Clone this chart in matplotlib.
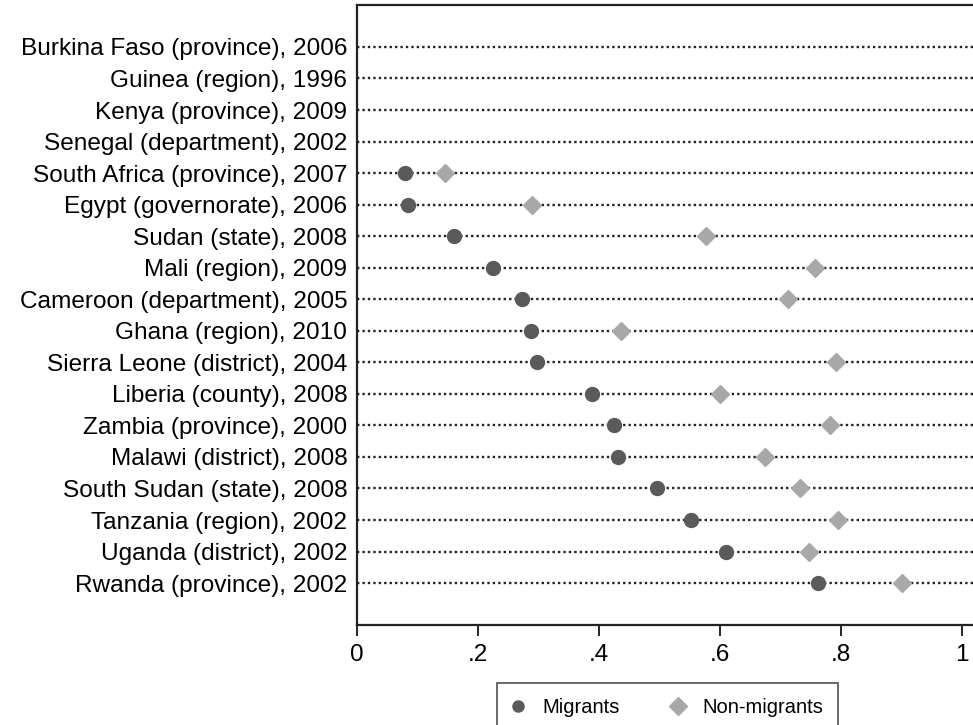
import matplotlib
matplotlib.use("Agg")
import matplotlib.pyplot as plt
from matplotlib.lines import Line2D

plt.rcParams['font.family'] = ['Liberation Sans', 'DejaVu Sans']

countries = [
    'Burkina Faso (province), 2006',
    'Guinea (region), 1996',
    'Kenya (province), 2009',
    'Senegal (department), 2002',
    'South Africa (province), 2007',
    'Egypt (governorate), 2006',
    'Sudan (state), 2008',
    'Mali (region), 2009',
    'Cameroon (department), 2005',
    'Ghana (region), 2010',
    'Sierra Leone (district), 2004',
    'Liberia (county), 2008',
    'Zambia (province), 2000',
    'Malawi (district), 2008',
    'South Sudan (state), 2008',
    'Tanzania (region), 2002',
    'Uganda (district), 2002',
    'Rwanda (province), 2002',
]
# None = no value shown for that census
migrants = [None, None, None, None, 0.080, 0.085, 0.160, 0.225, 0.273, 0.288,
            0.298, 0.388, 0.425, 0.432, 0.497, 0.552, 0.610, 0.763]
non_migrants = [None, None, None, None, 0.145, 0.290, 0.578, 0.758, 0.713, 0.437,
                0.793, 0.600, 0.782, 0.675, 0.732, 0.795, 0.748, 0.902]

x_ticks = [0, 0.2, 0.4, 0.6, 0.8, 1.0]
x_tick_labels = ['0', '.2', '.4', '.6', '.8', '1']

mig_color = '#5a5a5a'
non_color = '#a8a8a8'

fig = plt.figure(figsize=(9.73, 7.25), dpi=100)
ax = fig.add_axes([0.3669, 0.1379, 0.64, 0.8552])

rows = list(range(len(countries)))
for i in rows:
    ax.axhline(i, color='#222222', linestyle=(0, (1, 1.3)), linewidth=1.7, zorder=1)

mx = [v for v in migrants if v is not None]
my = [i for i, v in zip(rows, migrants) if v is not None]
nx = [v for v in non_migrants if v is not None]
ny = [i for i, v in zip(rows, non_migrants) if v is not None]

ax.plot(mx, my, 'o', color=mig_color, markersize=10, linestyle='none', zorder=3)
ax.plot(nx, ny, 'D', color=non_color, markersize=9.5, linestyle='none', zorder=3)

ax.set_yticks(rows)
ax.set_yticklabels(countries, fontsize=17.6)
ax.set_ylim(len(countries) - 1 + 1.33, -1.33)
ax.tick_params(axis='y', length=0, pad=7)

ax.set_xticks(x_ticks)
ax.set_xticklabels(x_tick_labels, fontsize=17.6)
ax.set_xlim(0, 1.03)
ax.tick_params(axis='x', length=8, width=1.2, pad=6, direction='out')

for s in ax.spines.values():
    s.set_linewidth(1.6)
    s.set_color('#222222')

handles = [
    Line2D([], [], marker='o', color=mig_color, linestyle='none', markersize=8),
    Line2D([], [], marker='D', color=non_color, linestyle='none', markersize=9),
]
leg = fig.legend(handles, ['Migrants', 'Non-migrants'], loc='upper center',
                 bbox_to_anchor=(0.686, 0.058), borderaxespad=0, ncol=2,
                 fontsize=14.5, frameon=True, fancybox=False, edgecolor='#222222',
                 borderpad=0.75, handlelength=0.6, columnspacing=2.6,
                 handletextpad=0.9)
leg.get_frame().set_linewidth(1.2)

fig.savefig('out.png', dpi=100)
